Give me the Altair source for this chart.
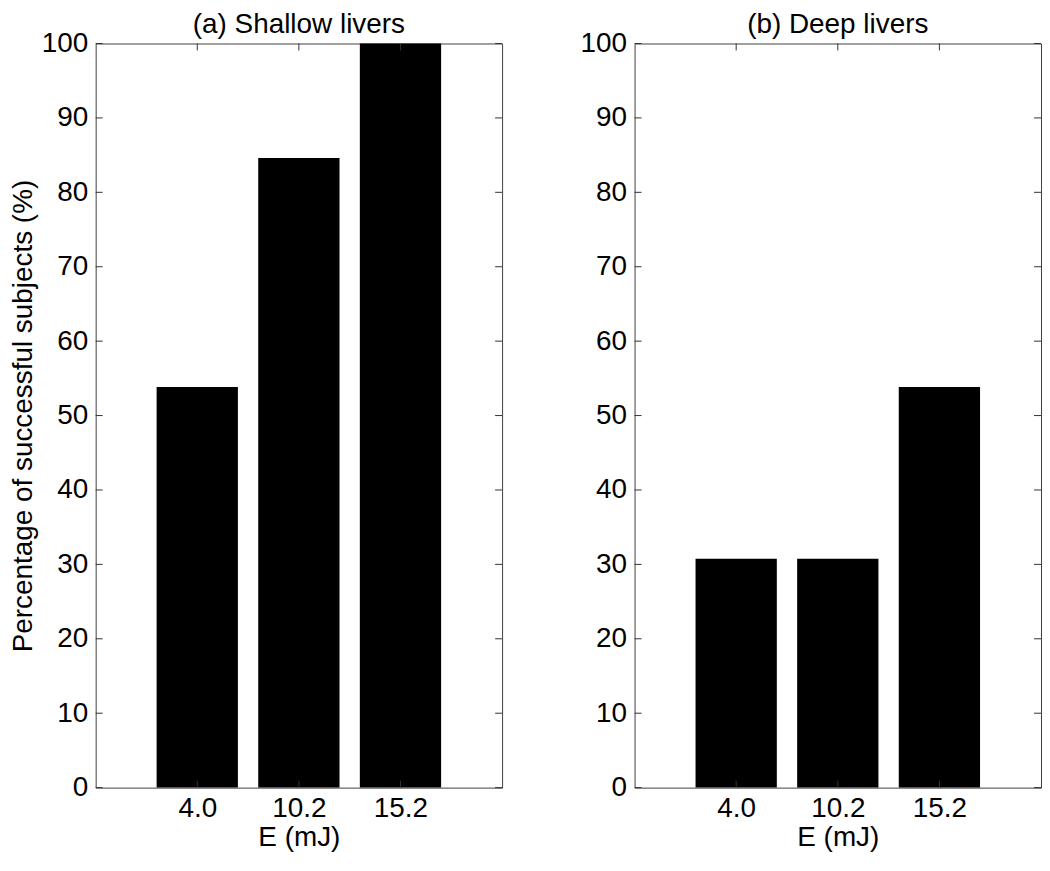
import altair as alt
import pandas as pd

# ---- data ----
energies = ["4.0", "10.2", "15.2"]        # E (mJ) tick labels
positions = [1, 2, 3]                      # bar slots
shallow = [53.85, 84.62, 100.0]            # (a) Shallow livers, %
deep = [30.77, 30.77, 53.85]               # (b) Deep livers, %
y_ticks = [0, 10, 20, 30, 40, 50, 60, 70, 80, 90, 100]
panel_titles = ["(a) Shallow livers", "(b) Deep livers"]

W, H = 408, 747
BAR = 0.8
FONT = "Liberation Sans"
FS = 28
TICK_COLOR = "#333333"
TICK_LEN = 7

label_expr = "[" + ",".join(f"'{e}'" for e in energies) + "][datum.value - 1]"


def panel(values, title, first):
    df = pd.DataFrame({
        "pos": positions,
        "lo": [p - BAR / 2 for p in positions],
        "hi": [p + BAR / 2 for p in positions],
        "val": values,
        "base": [0] * len(values),
    })
    xs = alt.Scale(domain=[0, 4], nice=False, zero=False)
    ys = alt.Scale(domain=[0, 100], nice=False)

    y_axis_kw = dict(values=y_ticks, ticks=False, domain=False, grid=False,
                     labelPadding=8, format="d")
    if first:
        y_axis_kw.update(title="Percentage of successful subjects (%)", titlePadding=4)
    else:
        y_axis_kw.update(title="")

    bars = alt.Chart(df).mark_rect(color="black").encode(
        x=alt.X("lo:Q", scale=xs,
                axis=alt.Axis(values=positions, labelExpr=label_expr, title="E (mJ)",
                              ticks=False, domain=False, grid=False,
                              labelPadding=7, titlePadding=1)),
        x2="hi",
        y=alt.Y("val:Q", scale=ys, axis=alt.Axis(**y_axis_kw)),
        y2="base",
    )

    ydf = pd.DataFrame({"v": y_ticks})
    xdf = pd.DataFrame({"p": positions})
    left = alt.Chart(ydf).mark_rule(color=TICK_COLOR, strokeWidth=1).encode(
        y=alt.Y("v:Q", scale=ys), x=alt.value(0), x2=alt.value(TICK_LEN))
    right = alt.Chart(ydf).mark_rule(color=TICK_COLOR, strokeWidth=1).encode(
        y=alt.Y("v:Q", scale=ys), x=alt.value(W), x2=alt.value(W - TICK_LEN))
    top = alt.Chart(xdf).mark_rule(color=TICK_COLOR, strokeWidth=1).encode(
        x=alt.X("p:Q", scale=xs), y=alt.value(0), y2=alt.value(TICK_LEN))
    bottom = alt.Chart(xdf).mark_rule(color=TICK_COLOR, strokeWidth=1).encode(
        x=alt.X("p:Q", scale=xs), y=alt.value(H), y2=alt.value(H - TICK_LEN))

    return alt.layer(bars, left, right, top, bottom).properties(
        width=W, height=H,
        title=alt.TitleParams(title, fontSize=28, font=FONT, fontWeight="normal",
                              color="black", offset=-9, anchor="middle"),
    )


pa = panel(shallow, panel_titles[0], True)
pb = panel(deep, panel_titles[1], False)

chart = alt.hconcat(pa, pb, spacing=76).properties(
    padding={"left": 0, "top": 0, "right": 0, "bottom": 0}
).configure_view(
    stroke="#404040", strokeWidth=1
).configure_axis(
    labelFont=FONT, titleFont=FONT, labelFontSize=FS, titleFontSize=FS,
    labelColor="black", titleColor="black", titleFontWeight="normal",
)

chart.save("out.html", embed_options={"renderer": "svg", "actions": False})
